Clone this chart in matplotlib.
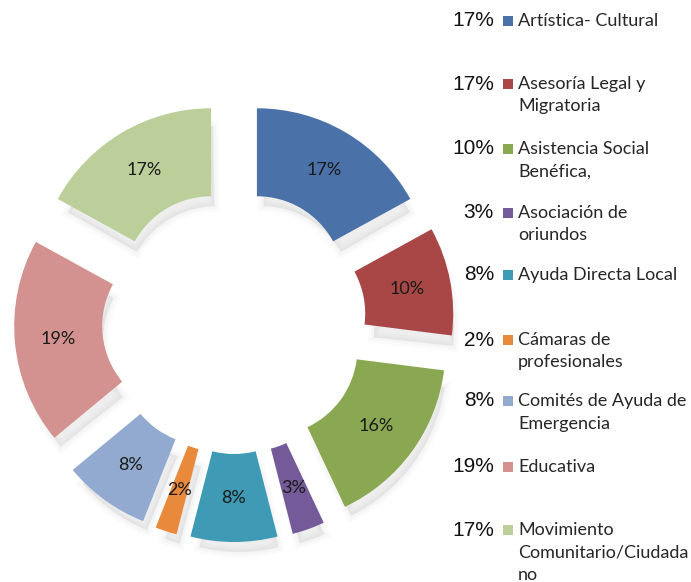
import matplotlib.pyplot as plt
from matplotlib.patches import Wedge, Rectangle

# data
categories = ["Artística- Cultural", "Asesoría Legal y\nMigratoria", "Asistencia Social\nBenéfica,",
              "Asociación de\noriundos", "Ayuda Directa Local", "Cámaras de\nprofesionales",
              "Comités de Ayuda de\nEmergencia", "Educativa", "Movimiento\nComunitario/Ciudada\nno"]
chart_pct = [17, 10, 16, 3, 8, 2, 8, 19, 17]
legend_pct = ["17%", "17%", "10%", "3%", "8%", "2%", "8%", "19%", "17%"]
colors = ["#4a72a8", "#a94646", "#8aa851", "#745a98", "#3f9bb5", "#e8893c",
          "#92aad0", "#d39190", "#bccf9a"]

W, H = 691, 582
fig = plt.figure(figsize=(W / 100, H / 100), dpi=100)
ax = fig.add_axes([0, 0, 1, 1])

def Y(y):  # pixel row -> data y
    return H - y

wedges, texts, autotexts = ax.pie(
    chart_pct, colors=colors, startangle=90, counterclock=False,
    radius=175, center=(234, Y(322)), explode=[45] * len(chart_pct),
    wedgeprops=dict(width=88, linewidth=0), autopct='%.0f%%', pctdistance=0.75,
    textprops=dict(family='Lato', fontsize=13, color='#1a1a1a'))

# soft grey shadows, mostly below each segment
for w in wedges:
    for lw, a in [(8, 0.02), (4, 0.03), (0, 0.05)]:
        s = Wedge((w.center[0] + 5, w.center[1] - 14), w.r - 4, w.theta1 + 1, w.theta2 - 1,
                  width=w.width - 8, facecolor='#606060', edgecolor='#606060',
                  linewidth=lw, alpha=a, zorder=0)
        ax.add_patch(s)
    w.set_zorder(2)
for t in autotexts:
    t.set_zorder(3)

# legend on the right, drawn by hand
row_y = [21, 84, 149, 213, 275, 340, 401, 467, 530]
for pct, name, col, y in zip(legend_pct, categories, colors, row_y):
    ax.text(494, Y(y), pct, ha='right', va='center', family='Liberation Sans',
            fontsize=15, color='#111111')
    ax.add_patch(Rectangle((503, Y(y) - 5), 10, 10, facecolor=col, edgecolor='none'))
    for i, line in enumerate(name.split('\n')):
        ax.text(518, Y(y + i * 22.5), line, ha='left', va='center', family='Lato',
                fontsize=13, color='#262626')

ax.set_xlim(0, W)
ax.set_ylim(0, H)
ax.set_aspect('auto')
ax.axis('off')
fig.savefig('out.png', dpi=100)
